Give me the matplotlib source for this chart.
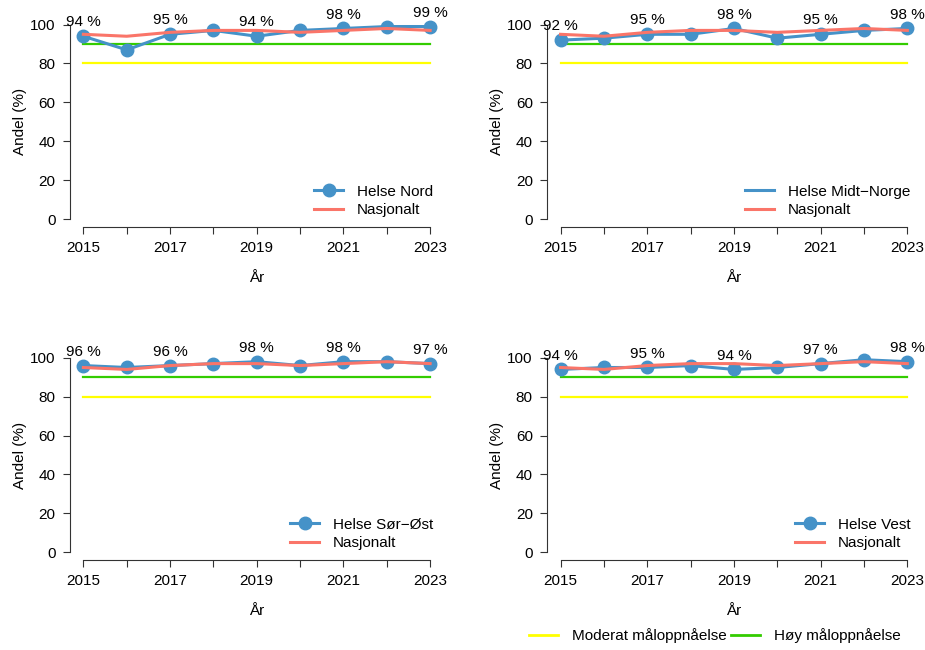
import matplotlib
matplotlib.use("Agg")
import matplotlib.pyplot as plt
from matplotlib.lines import Line2D

plt.rcParams['font.family'] = ['Liberation Sans', 'DejaVu Sans']
plt.rcParams['font.size'] = 11

years = [2015, 2016, 2017, 2018, 2019, 2020, 2021, 2022, 2023]
nasjonalt = [95, 94, 96, 97, 97, 96, 97, 98, 97]
regions = ["Helse Nord", "Helse Midt\u2212Norge", "Helse Sør\u2212Øst", "Helse Vest"]
nord = [94, 87, 95, 97, 94, 97, 98, 99, 99]
midt = [92, 93, 95, 95, 98, 93, 95, 97, 98]
sorost = [96, 95, 96, 97, 98, 96, 98, 98, 97]
vest = [94, 95, 95, 96, 94, 95, 97, 99, 98]
region_values = [nord, midt, sorost, vest]
legend_marker = [True, False, True, True]
moderat = 80
hoy = 90

blue = "#4592C8"
red = "#FA7569"
green = "#33CC00"
yellow = "#FFFF00"

fig = plt.figure(figsize=(9.25, 6.5), dpi=100)
lefts = [69.5 / 925, 546.7 / 925]
bottoms = [(650 - 226.8) / 650, (650 - 560) / 650]
w = 374.5 / 925
h = 210 / 650

for i in range(4):
    ax = fig.add_axes([lefts[i % 2], bottoms[i // 2], w, h])
    vals = region_values[i]
    ax.plot([years[0], years[-1]], [moderat, moderat], color=yellow, lw=1.6, zorder=1)
    ax.plot([years[0], years[-1]], [hoy, hoy], color=green, lw=1.6, zorder=1)
    ax.plot(years, vals, color=blue, lw=2.2, marker="o", ms=9, zorder=3)
    ax.plot(years, nasjonalt, color=red, lw=2.2, zorder=4)
    for j in range(0, len(years), 2):
        ax.annotate("%d %%" % vals[j], (years[j], vals[j]), xytext=(0, 10),
                    textcoords="offset points", ha="center", va="center")

    ax.set_xlim(2014.68, 2023.32)
    ax.set_ylim(-4, 104)
    for s in ["top", "right"]:
        ax.spines[s].set_visible(False)
    ax.spines["left"].set_bounds(0, 100)
    ax.spines["bottom"].set_bounds(2015, 2023)
    for s in ["left", "bottom"]:
        ax.spines[s].set_linewidth(0.8)
        ax.spines[s].set_color("#333333")
    ax.set_xticks(years)
    ax.set_xticklabels([str(y) if y % 2 == 1 else "" for y in years])
    ax.set_yticks([0, 20, 40, 60, 80, 100])
    ax.tick_params(length=5, width=0.8, color="#333333", pad=5)
    ax.set_xlabel("År")
    ax.set_ylabel("Andel (%)")
    ax.xaxis.set_label_coords(0.5, -0.21)
    ax.yaxis.set_label_coords(-0.1135, 0.5)

    if legend_marker[i]:
        h1 = Line2D([], [], color=blue, lw=2.2, marker="o", ms=9)
    else:
        h1 = Line2D([], [], color=blue, lw=2.2)
    h2 = Line2D([], [], color=red, lw=2.2)
    ax.legend([h1, h2], [regions[i], "Nasjonalt"], loc="lower right", frameon=False,
              handlelength=1.9, handletextpad=0.9, borderaxespad=0.3,
              labelspacing=0.3, bbox_to_anchor=(1.0, -0.005))

lh = [Line2D([], [], color=yellow, lw=2), Line2D([], [], color=green, lw=2)]
fig.legend(lh, ["Moderat måloppnåelse", "Høy måloppnåelse"], ncol=2, frameon=False,
           loc="center", bbox_to_anchor=(715 / 925, 14 / 650), handlelength=1.9,
           handletextpad=0.9, columnspacing=0.3)

fig.savefig("out.png", dpi=100)
